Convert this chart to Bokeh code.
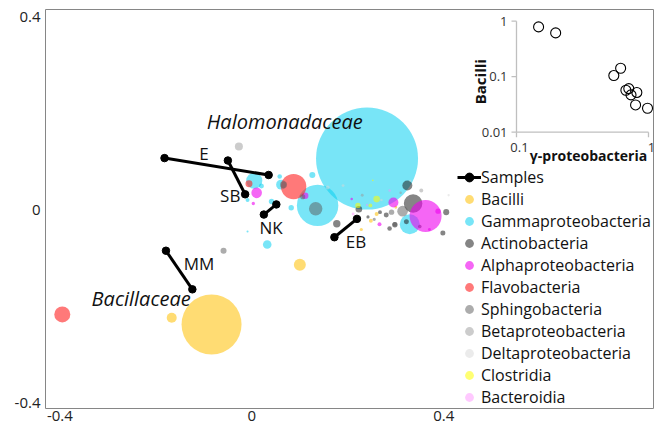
import math
from bokeh.plotting import figure
from bokeh.models import Range1d, LogScale, FixedTicker, Legend, LegendItem, ColumnDataSource
from bokeh.core.properties import value
from bokeh.embed import file_html
from bokeh.resources import INLINE

FONT = "Open Sans"

# ---------------- data ----------------
classes = ["Bacilli", "Gammaproteobacteria", "Actinobacteria", "Alphaproteobacteria",
           "Flavobacteria", "Sphingobacteria", "Betaproteobacteria", "Deltaproteobacteria",
           "Clostridia", "Bacteroidia"]

bacilli_x = [-0.084, -0.167, 0.100, 0.248, 0.260, 0.228, 0.300]
bacilli_y = [-0.238, -0.224, -0.114, -0.023, -0.009, -0.041, 0.005]
bacilli_a = [34.6, 0.96, 1.38, 0.15, 0.15, 0.10, 0.08]

gamma_x = [0.240, 0.137, 0.329, 0.005, 0.061, 0.032, 0.041, 0.082, -0.009, -0.009, 0.020, 0.058, 0.126]
gamma_y = [0.106, 0.009, -0.030, 0.060, 0.052, -0.072, 0.017, 0.004, 0.020, -0.045, 0.049, 0.069, 0.072]
gamma_a = [100, 16.5, 3.84, 2.5, 0.96, 0.71, 0.28, 0.28, 0.15, 0.04, 0.24, 0.2, 0.35]

actino_x = [0.324, 0.336, 0.177, 0.223, 0.298, 0.280, 0.405, 0.398, 0.322, 0.267, 0.287, 0.242, 0.350]
actino_y = [0.050, 0.013, -0.029, 0.001, -0.031, -0.011, -0.005, -0.048, -0.025, -0.005, -0.039, -0.015, -0.035]
actino_a = [0.96, 3.3, 0.53, 0.42, 0.28, 0.24, 0.35, 0.24, 0.24, 0.15, 0.2, 0.1, 0.12]

alpha_x = [0.362, 0.295, 0.010, 0.111, 0.003, 0.388, 0.266, 0.370, 0.208]
alpha_y = [-0.013, 0.015, 0.035, 0.029, 0.013, -0.003, -0.030, -0.041, 0.022]
alpha_a = [9.84, 0.96, 1.08, 0.42, 0.11, 0.28, 0.15, 0.08, 0.06]

flavo_x = [0.087, -0.395, -0.006]
flavo_y = [0.048, -0.217, 0.054]
flavo_a = [6.2, 2.46, 0.47]

sphingo_x = [0.133, 0.314, -0.059, 0.291, 0.298, 0.106, 0.066, 0.255]
sphingo_y = [0.002, -0.003, -0.085, -0.005, -0.030, 0.027, 0.052, -0.020]
sphingo_a = [1.73, 1.08, 0.35, 0.28, 0.2, 0.25, 0.47, 0.1]

beta_x = [-0.027, 0.353, 0.230, 0.310]
beta_y = [0.131, 0.040, 0.030, 0.035]
beta_a = [0.62, 0.15, 0.08, 0.06]

delta_x = [0.158, 0.190, 0.270, 0.330, 0.410]
delta_y = [0.046, 0.050, 0.020, 0.060, 0.030]
delta_a = [0.15, 0.08, 0.06, 0.05, 0.05]

clostr_x = [0.260, 0.221, 0.247, 0.252]
clostr_y = [0.022, 0.009, 0.009, 0.061]
clostr_a = [0.42, 0.28, 0.15, 0.03]

bactero_x = [0.211, 0.287, 0.240]
bactero_y = [-0.009, 0.040, 0.010]
bactero_a = [0.08, 0.06, 0.05]

sample_names = ["E", "SB", "NK", "MM", "EB"]
sample_x0 = [-0.182, -0.050, 0.051, -0.179, 0.219]
sample_y0 = [0.107, 0.102, 0.011, -0.085, -0.019]
sample_x1 = [0.035, -0.014, 0.025, -0.124, 0.172]
sample_y1 = [0.072, 0.032, -0.010, -0.165, -0.057]
sample_lab_x = [-0.100, -0.045, 0.040, -0.110, 0.217]
sample_lab_y = [0.116, 0.030, -0.037, -0.111, -0.065]

family_names = ["Halomonadaceae", "Bacillaceae"]
family_x = [-0.094, -0.334]
family_y = [0.182, -0.185]

# inset: relative abundances per sample
inset_gamma = [0.147, 0.198, 0.546, 0.615, 0.674, 0.709, 0.737, 0.816, 0.798, 0.983]
inset_bacilli = [0.79, 0.615, 0.105, 0.142, 0.057, 0.061, 0.047, 0.052, 0.031, 0.027]
inset_yticks = [0.01, 0.1, 1]
inset_ytick_labels = ["0.01", "0.1", "1"]
inset_xticks = [0.1, 1]
inset_xtick_labels = ["0.1", "1"]

# ---------------- styles ----------------
colors = {
    "Bacilli": ("#FFC000", 0.55),
    "Gammaproteobacteria": ("#0ACFF0", 0.55),
    "Actinobacteria": ("#202020", 0.55),
    "Alphaproteobacteria": ("#EE00EE", 0.6),
    "Flavobacteria": ("#FF2020", 0.6),
    "Sphingobacteria": ("#5A5A5A", 0.5),
    "Betaproteobacteria": ("#9A9A9A", 0.5),
    "Deltaproteobacteria": ("#D8D8D8", 0.5),
    "Clostridia": ("#FFFF00", 0.55),
    "Bacteroidia": ("#FF88FF", 0.45),
}
series = {
    "Bacilli": (bacilli_x, bacilli_y, bacilli_a),
    "Gammaproteobacteria": (gamma_x, gamma_y, gamma_a),
    "Actinobacteria": (actino_x, actino_y, actino_a),
    "Alphaproteobacteria": (alpha_x, alpha_y, alpha_a),
    "Flavobacteria": (flavo_x, flavo_y, flavo_a),
    "Sphingobacteria": (sphingo_x, sphingo_y, sphingo_a),
    "Betaproteobacteria": (beta_x, beta_y, beta_a),
    "Deltaproteobacteria": (delta_x, delta_y, delta_a),
    "Clostridia": (clostr_x, clostr_y, clostr_a),
    "Bacteroidia": (bactero_x, bactero_y, bactero_a),
}
BUBBLE_SCALE = 10.2  # px per sqrt(abundance)

# frame geometry (px)
FL, FT, FW, FH = 45, 9, 609, 399
W, H = 654, 427

p = figure(width=W, height=H,
           x_range=Range1d(-0.430, 0.839), y_range=Range1d(-0.412, 0.415),
           output_backend="svg", toolbar_location=None,
           min_border_left=FL, min_border_right=W - FL - FW, min_border_top=FT,
           min_border_bottom=H - FT - FH)
p.background_fill_color = "white"
p.border_fill_color = "white"
p.outline_line_color = "#868686"
p.outline_line_width = 1
p.grid.visible = False

for ax in (p.xaxis[0], p.yaxis[0]):
    ax.ticker = FixedTicker(ticks=[-0.4, 0, 0.4])
    ax.axis_line_color = None
    ax.major_tick_line_color = None
    ax.minor_tick_line_color = None
    ax.major_tick_out = 0
    ax.major_tick_in = 0
    ax.major_label_text_font = FONT
    ax.major_label_text_font_size = "15px"
    ax.major_label_text_color = "#222222"
    ax.major_label_standoff = 5
    ax.major_label_overrides = {-0.4: "-0.4", 0: "0", 0.4: "0.4"}
p.xaxis[0].major_label_standoff = 2

bubble_renderers = {}
for name in classes:
    xs, ys, ab = series[name]
    col, alp = colors[name]
    src = ColumnDataSource(dict(x=xs, y=ys, s=[BUBBLE_SCALE * math.sqrt(a) for a in ab]))
    r = p.scatter("x", "y", size="s", source=src, marker="circle",
                  fill_color=col, fill_alpha=alp, line_color=None)
    bubble_renderers[name] = r

# samples: connecting lines + end points
seg_src = ColumnDataSource(dict(xs=[[a, b] for a, b in zip(sample_x0, sample_x1)],
                                ys=[[a, b] for a, b in zip(sample_y0, sample_y1)]))
samp_lines = p.multi_line("xs", "ys", source=seg_src, line_color="black", line_width=3)
pts_src = ColumnDataSource(dict(x=sample_x0 + sample_x1, y=sample_y0 + sample_y1))
samp_pts = p.scatter("x", "y", source=pts_src, size=7.5, marker="circle",
                     fill_color="black", line_color="black")

p.text(x=sample_lab_x, y=sample_lab_y, text=sample_names, text_font=value(FONT),
       text_font_size="17px", text_color="#111111", text_align="center", text_baseline="middle")
p.text(x=family_x, y=family_y, text=family_names, text_font=value(FONT),
       text_font_style="italic", text_font_size="20px", text_color="#111111",
       text_align="left", text_baseline="middle")

legend_items = [LegendItem(label="Samples", renderers=[samp_lines, samp_pts])]
for name in classes:
    legend_items.append(LegendItem(label=name, renderers=[bubble_renderers[name]]))

legend = Legend(items=legend_items, location=(412, 0), orientation="vertical",
                glyph_width=24, glyph_height=22, label_height=22, spacing=0, label_standoff=-4,
                padding=0, margin=0, border_line_alpha=0, background_fill_alpha=0,
                label_text_font=FONT, label_text_font_size="16px", label_text_color="#111111")
p.add_layout(legend)

# ---------------- inset (log-log) drawn with extra log scales ----------------
# inset layout in px: x decade 132px, 0.1 sits 471px right of frame left;
# y decade 55.5px, 1 sits 11.7px below frame top
IX0, IXD = 471, 132
IY0, IYD = 11.7, 55.5
p.extra_x_ranges = {"ix": Range1d(10 ** (-1 - IX0 / IXD), 10 ** (-1 + (FW - IX0) / IXD))}
p.extra_y_ranges = {"iy": Range1d(10 ** (-(FH - IY0) / IYD), 10 ** (IY0 / IYD))}
p.extra_x_scales = {"ix": LogScale()}
p.extra_y_scales = {"iy": LogScale()}
IN = dict(x_range_name="ix", y_range_name="iy")

axis_col = "#BFBFBF"
xmin, xmax = inset_xticks[0], inset_xticks[-1]
ymin, ymax = inset_yticks[0], inset_yticks[-1]
p.segment(x0=[xmin, xmin], y0=[ymin, ymin], x1=[xmin, xmax], y1=[ymax, ymin],
          line_color=axis_col, line_width=1.3, **IN)
tick_dx = 10 ** (-5 / IXD)
tick_dy = 10 ** (-5 / IYD)
p.segment(x0=[xmin] * 3, y0=inset_yticks, x1=[xmin * tick_dx] * 3, y1=inset_yticks,
          line_color=axis_col, line_width=1.3, **IN)
p.segment(x0=inset_xticks, y0=[ymin] * 2, x1=inset_xticks, y1=[ymin * tick_dy] * 2,
          line_color=axis_col, line_width=1.3, **IN)
p.text(x=[xmin] * 3, y=inset_yticks, text=inset_ytick_labels, x_offset=-9,
       text_align="right", text_baseline="middle", text_font=value(FONT),
       text_font_size="13px", text_color="#333333", **IN)
p.text(x=inset_xticks, y=[ymin] * 2, text=inset_xtick_labels, x_offset=3, y_offset=15,
       text_align="center", text_baseline="middle", text_font=value(FONT),
       text_font_size="13px", text_color="#333333", **IN)
p.text(x=[math.sqrt(xmin * xmax)], y=[ymin], text=["γ-proteobacteria"], x_offset=6, y_offset=23,
       text_align="center", text_baseline="middle", text_font=value(FONT),
       text_font_style="bold", text_font_size="14px", text_color="#111111", **IN)
p.text(x=[xmin], y=[math.sqrt(ymin * ymax)], text=["Bacilli"], x_offset=-37, y_offset=5,
       angle=math.pi / 2, text_align="center", text_baseline="middle", text_font=value(FONT),
       text_font_style="bold", text_font_size="15px", text_color="#111111", **IN)
p.scatter(x=inset_gamma, y=inset_bacilli, size=10, marker="circle", fill_color=None,
          line_color="black", line_width=1.1, **IN)

with open("out.html", "w") as f:
    f.write(file_html(p, INLINE))
